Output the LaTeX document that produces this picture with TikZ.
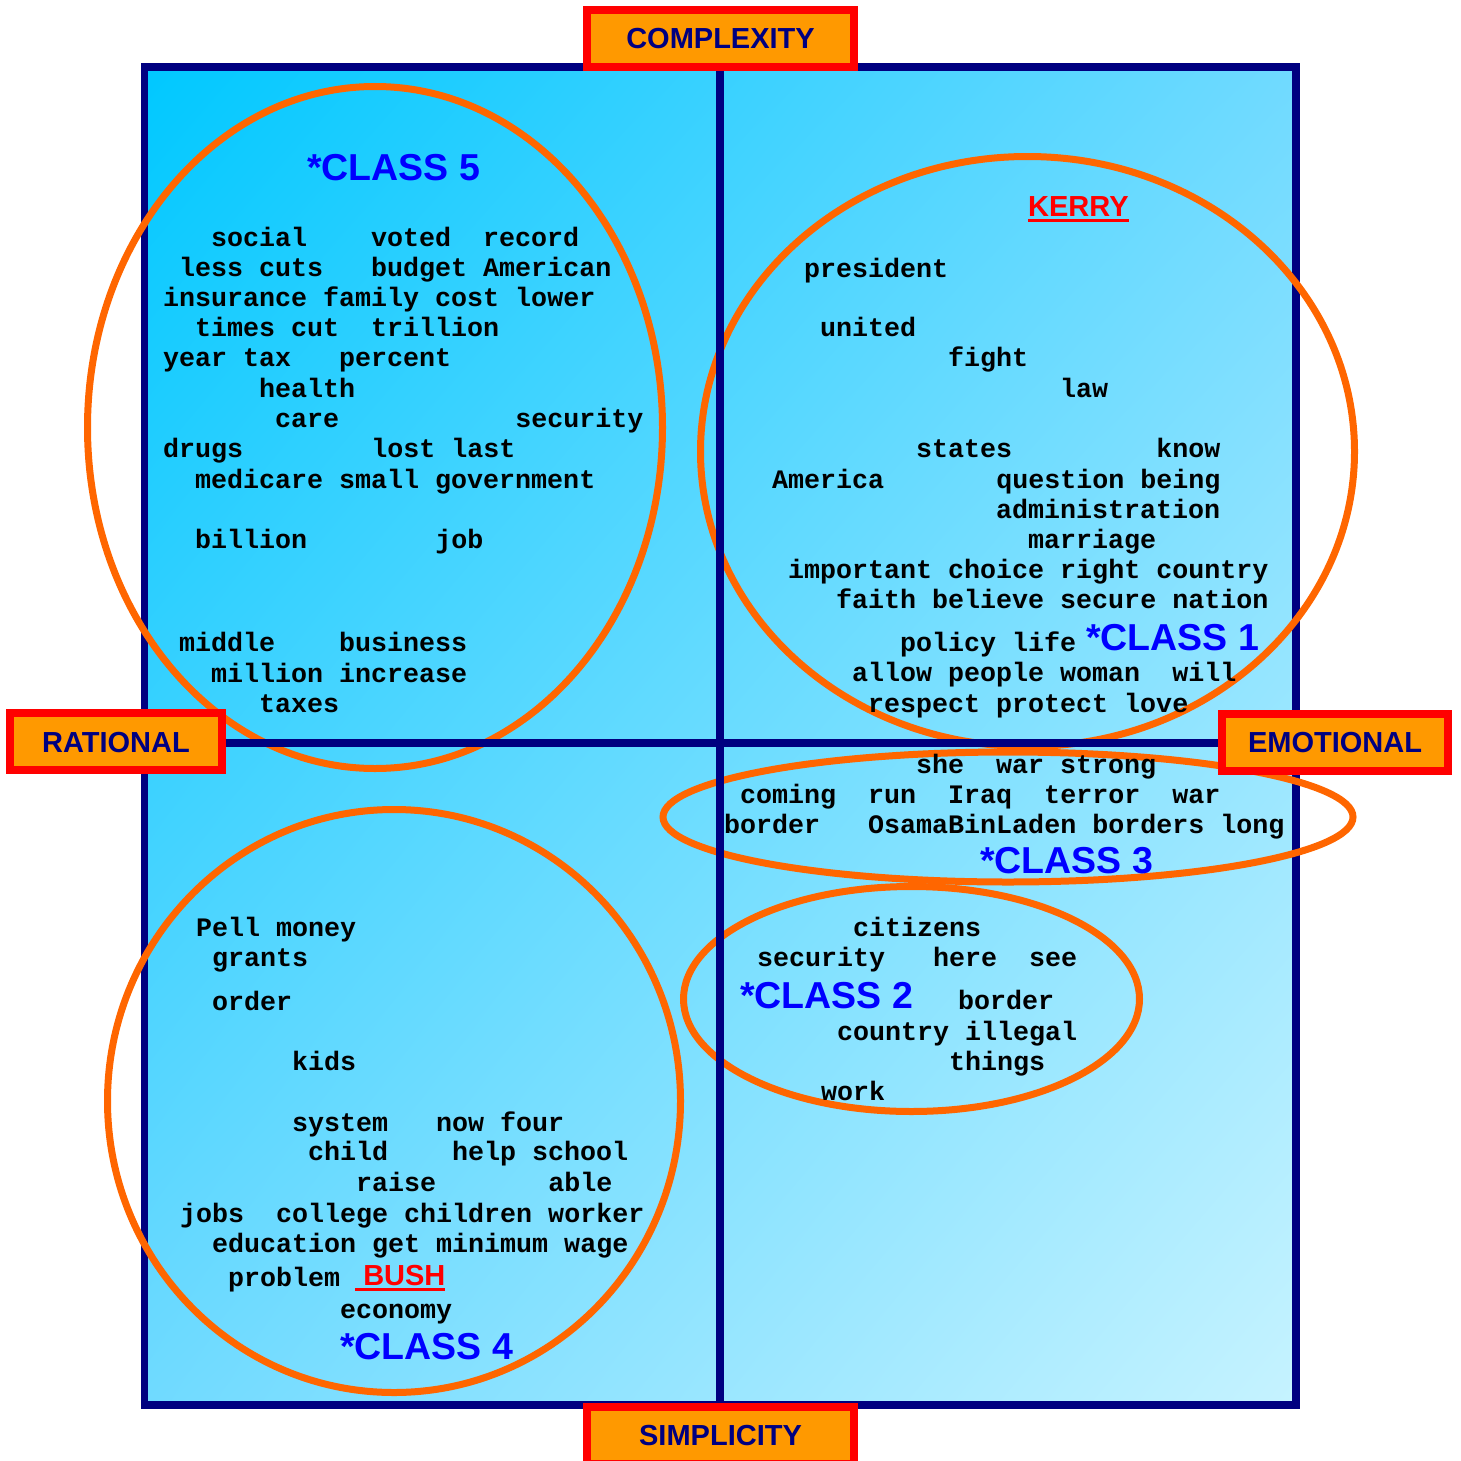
\documentclass[tikz,border=0pt]{standalone}
\usepackage{fontspec}
\setmainfont{Liberation Sans}
\newfontfamily\wordfam{Liberation Mono}
\usepackage{xcolor}
\usepackage{tikz}
\usetikzlibrary{shapes.geometric, shadings}
\definecolor{navy}{RGB}{0,0,128}
\definecolor{boxorange}{RGB}{255,153,0}
\definecolor{ringorange}{RGB}{255,102,0}
\definecolor{classblue}{RGB}{0,0,255}
\definecolor{skytop}{RGB}{0,200,255}
\definecolor{skymid}{RGB}{112,218,255}
\definecolor{skylow}{RGB}{198,243,255}
\newcommand{\Cls}[1]{*CLASS #1}
\newcommand{\Cand}[1]{\setbox0=\hbox{#1}\rlap{\rule[-6pt]{\wd0}{2.7pt}}\box0}

\begin{document}
\begin{tikzpicture}[
  x=1pt, y=-1pt,
  word/.style={anchor=base west, inner sep=0pt, yshift=-2pt,
    font=\wordfam\bfseries\fontsize{26.67}{30}\selectfont},
  classlbl/.style={anchor=base west, inner sep=0pt, text=classblue,
    font=\bfseries\fontsize{37.5}{44}\selectfont},
  cand/.style={anchor=base west, inner sep=0pt, text=red,
    font=\bfseries\fontsize{29}{34}\selectfont},
  axisbox/.style={draw=red, fill=boxorange, line width=8pt, text=navy,
    inner sep=0pt, text height=22pt, text depth=1pt,
    font=\bfseries\fontsize{29}{34}\selectfont},
  ring/.style={ellipse, draw=ringorange, line width=7pt, inner sep=0pt},
  divider/.style={navy, line width=7.5pt},
]
  \useasboundingbox (0,0) rectangle (1461,1461);

  % Quadrant field
  \node[draw=navy, line width=7.5pt, inner sep=0pt,
    minimum width=1151.5pt, minimum height=1338pt,
    upper left=skytop, upper right=skymid,
    lower left=skymid, lower right=skylow] (quad) at (720.25,736) {};

  % Class rings
  \node[ring, minimum width=575pt, minimum height=682pt] (e5) at (375,427.5) {};
  \node[ring, minimum width=654pt, minimum height=590pt] (e1) at (1027.5,451.5) {};
  \node[ring, minimum width=690pt, minimum height=130pt] (e3) at (1008,817) {};
  \node[ring, minimum width=456pt, minimum height=225pt] (e2) at (911.5,999) {};
  \node[ring, minimum width=573pt, minimum height=583pt] (e4) at (394,1101) {};

  % Axes
  \coordinate (topmid) at (720,67);
  \coordinate (botmid) at (720,1405);
  \coordinate (leftmid) at (144.5,743);
  \coordinate (rightmid) at (1296,743);
  \draw[divider] (topmid) -- (botmid);
  \draw[divider] (leftmid) -- (rightmid);

  % Class 5 -- upper left
  \node[classlbl] (c5) at (307,180) {\Cls{5}};
  \node[word] (w5a) at (211,244) {social~~~~voted~~record};
  \node[word] (w5b) at (179,274) {less cuts~~~budget American};
  \node[word] (w5c) at (163,304) {insurance family cost lower};
  \node[word] (w5d) at (195,334) {times cut~~trillion};
  \node[word] (w5e) at (163,364) {year tax~~~percent};
  \node[word] (w5f) at (259,395) {health};
  \node[word] (w5g) at (275,425) {care~~~~~~~~~~~security};
  \node[word] (w5h) at (163,455) {drugs~~~~~~~~lost last};
  \node[word] (w5i) at (195,486) {medicare small government};
  \node[word] (w5j) at (195,546) {billion~~~~~~~~job};
  \node[word] (w5k) at (179,649) {middle~~~~business};
  \node[word] (w5l) at (211,680) {million increase};
  \node[word] (w5m) at (259,710) {taxes};

  % Class 1 -- upper right
  \node[cand] (kerry) at (1028,216) {\Cand{KERRY}};
  \node[word] (w1a) at (804,275) {president};
  \node[word] (w1b) at (820,334) {united};
  \node[word] (w1c) at (948,364) {fight};
  \node[word] (w1d) at (1060,395) {law};
  \node[word] (w1e) at (916,455) {states~~~~~~~~~know};
  \node[word] (w1f) at (772,486) {America~~~~~~~question being};
  \node[word] (w1g) at (996,516) {administration};
  \node[word] (w1h) at (1028,546) {marriage};
  \node[word] (w1i) at (788,576) {important choice right country};
  \node[word] (w1j) at (836,606) {faith believe secure nation};
  \node[word] (w1k) at (900,649) {policy life};
  \node[classlbl] (c1) at (1086,650) {\Cls{1}};
  \node[word] (w1l) at (852,679) {allow people woman~~will};
  \node[word] (w1m) at (868,710) {respect protect love};

  % Class 3 -- across the middle
  \node[word] (w3a) at (916,771) {she~~war strong};
  \node[word] (w3b) at (740,801) {coming~~run~~Iraq~~terror~~war};
  \node[word] (w3c) at (724,831) {border~~~OsamaBinLaden borders long};
  \node[classlbl] (c3) at (980,873) {\Cls{3}};

  % Class 2 -- lower right
  \node[word] (w2a) at (853,934) {citizens};
  \node[word] (w2b) at (757,964) {security~~~here~~see};
  \node[classlbl] (c2) at (740,1008) {\Cls{2}};
  \node[word] (w2c) at (958,1007) {border};
  \node[word] (w2d) at (837,1038) {country illegal};
  \node[word] (w2e) at (949,1068) {things};
  \node[word] (w2f) at (821,1098) {work};

  % Class 4 -- lower left
  \node[word] (w4a) at (196,934) {Pell money};
  \node[word] (w4b) at (212,964) {grants};
  \node[word] (w4c) at (212,1008) {order};
  \node[word] (w4d) at (292,1068) {kids};
  \node[word] (w4e) at (292,1129) {system~~~now four};
  \node[word] (w4f) at (308,1158) {child~~~~help school};
  \node[word] (w4g) at (356,1189) {raise~~~~~~~able};
  \node[word] (w4h) at (180,1220) {jobs~~college children worker};
  \node[word] (w4i) at (212,1250) {education get minimum wage};
  \node[word] (w4j) at (228,1284) {problem};
  \node[cand] (bush) at (355,1285) {\Cand{\ BUSH}};
  \node[word] (w4k) at (340,1316) {economy};
  \node[classlbl] (c4) at (340,1359) {\Cls{4}};

  % Axis labels
  \node[axisbox, minimum width=267pt, minimum height=57pt] (complexity)
    at (720.5,38.5) {COMPLEXITY};
  \node[axisbox, minimum width=212pt, minimum height=57pt] (rational)
    at (116,741.5) {RATIONAL};
  \node[axisbox, minimum width=226pt, minimum height=57pt] (emotional)
    at (1335,742) {EMOTIONAL};
  \node[axisbox, minimum width=267pt, minimum height=57pt] (simplicity)
    at (720.5,1435) {SIMPLICITY};

\end{tikzpicture}
\end{document}
